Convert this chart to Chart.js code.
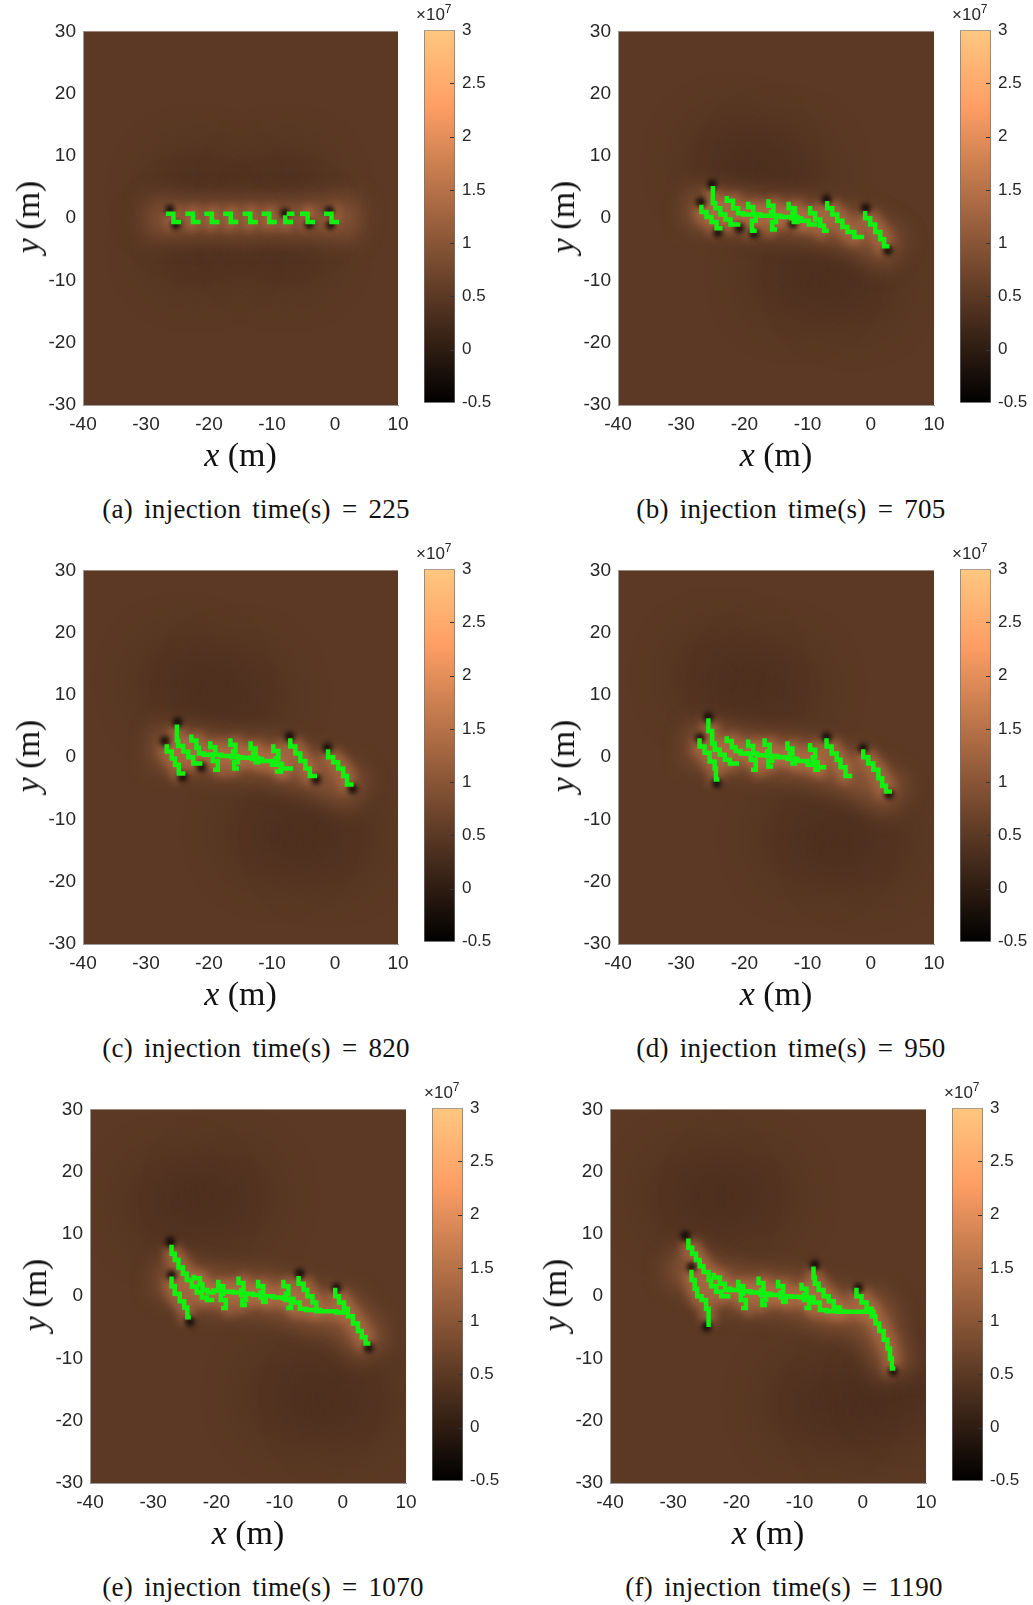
<!DOCTYPE html>
<html>
<head>
<meta charset="utf-8">
<script src="https://cdn.jsdelivr.net/npm/chart.js@4.4.1/dist/chart.umd.min.js"></script>
<style>
  body { margin: 0; background: #fff; }
  #page { position: relative; width: 1033px; height: 1605px; overflow: hidden; background: #fff; }
  canvas { position: absolute; }
  .cap { position: absolute; font-family: 'Liberation Serif', serif; font-size: 27px; letter-spacing: 0.3px; word-spacing: 4px; color: #111; white-space: nowrap; transform: translate(-50%, -50%); }
  .axt { position: absolute; font-family: 'Liberation Serif', serif; font-size: 34px; color: #111; white-space: nowrap; transform: translate(-50%, -50%); }
  .axt.y { transform: translate(-50%, -50%) rotate(-90deg); }
  .mul { position: absolute; font-family: 'Liberation Sans', Arial, sans-serif; font-size: 17px; line-height: 17px; color: #262626; white-space: nowrap; }
  .mul span { font-size: 12px; position: relative; top: -7px; }
</style>
</head>
<body>
<div id="page"></div>
<script>
// colour bar range, values x 10^7
const cbMin = -0.5, cbMax = 3;
const cbTicks = [-0.5, 0, 0.5, 1, 1.5, 2, 2.5, 3];
const xRange = [-40, 10];
const yRange = [-30, 30];
const tickStep = 10;

// field levels (x 10^7) used for the shading
const baseValue = 0.5;
const glowValue = 1.45;
const tipValue = -0.45;
const lobeValue = 0.1;

const captions = [
  '(a) injection time(s) = 225',
  '(b) injection time(s) = 705',
  '(c) injection time(s) = 820',
  '(d) injection time(s) = 950',
  '(e) injection time(s) = 1070',
  '(f) injection time(s) = 1190'
];

// fracture paths [x, y] in m, drawn as stepped lines
const aCracks = [
  [[-26.5,0.7],[-25.65,0.7],[-25.65,-0.6],[-24.8,-0.6]],
  [[-23.4,0.7],[-22.55,0.7],[-22.55,-0.6],[-21.7,-0.6]],
  [[-20.4,0.7],[-19.55,0.7],[-19.55,-0.6],[-18.7,-0.6]],
  [[-17.4,0.7],[-16.55,0.7],[-16.55,-0.6],[-15.7,-0.6]],
  [[-14.3,0.7],[-13.45,0.7],[-13.45,-0.6],[-12.6,-0.6]],
  [[-11.3,0.7],[-10.45,0.7],[-10.45,-0.6],[-9.6,-0.6]],
  [[-7.9,0.1],[-7.9,-0.6],[-7.0,-0.6]],
  [[-7.3,0.7],[-6.8,0.7]],
  [[-5.2,0.7],[-4.35,0.7],[-4.35,-0.6],[-3.5,-0.6]],
  [[-1.4,0.7],[-0.55,0.7],[-0.55,-0.6],[0.3,-0.6]]
];
const aTips = [[-26.2,1.4],[-25.3,-1.1],[-7.9,0.8],[-4.1,-1.0],[-0.7,-1.1],[-0.9,1.2]];
const aLobes = [[-22,4],[-8,4],[-22,-4],[-8,-4]];
const aBand = [[-30,0],[4,0]];

const bCracks = [
  [[-26.8,1.8],[-26.0,1.0],[-25.2,0.2],[-24.4,-0.6],[-23.8,-1.6]],
  [[-25.0,4.8],[-24.6,2.4],[-23.8,1.6],[-23.0,0.6],[-22.2,-0.2],[-21.0,-1.0]],
  [[-22.8,3.2],[-21.8,2.8],[-21.0,1.6],[-20.2,0.8]],
  [[-20.2,0.8],[-19.0,0.6],[-17.4,0.6],[-15.8,0.4],[-14.2,0.4],[-12.6,0.2],[-11.0,0.0],[-9.8,-0.4],[-8.8,-1.0]],
  [[-19.4,2.3],[-18.6,1.8],[-18.2,0.6],[-18.8,-0.4],[-18.4,-2.0]],
  [[-16.2,2.7],[-15.4,2.0],[-15.8,1.0],[-15.0,0.4],[-15.6,-0.6],[-15.2,-1.8]],
  [[-13.0,2.3],[-12.0,1.6],[-12.4,0.8],[-11.6,0.2],[-12.2,-0.6]],
  [[-9.6,1.6],[-8.8,0.8],[-8.0,-0.2],[-7.4,-1.2],[-7.0,-2.0]],
  [[-6.9,2.4],[-6.1,1.6],[-5.3,0.6],[-4.5,-0.4],[-3.7,-1.4],[-2.6,-2.2],[-1.4,-3.0]],
  [[-0.9,0.8],[-0.1,0.0],[0.7,-1.0],[1.5,-2.2],[2.1,-3.4],[2.6,-4.5]]
];
const bTips = [[-26.9,2.6],[-25.1,5.4],[-24.2,-2.3],[-20.8,-1.6],[-18.5,-2.5],[-12.3,-0.9],[-7.0,3.0],[-0.8,1.6],[2.7,-5.2]];
const bLobes = [[-22,9],[-14,7],[-12,-9],[-3,-10]];
const bBand = [[-29,1.8],[-20,0.8],[-10,-0.2],[-2,-2],[4,-5.5]];

const cCracks = [
  [[-26.7,1.7],[-25.9,0.9],[-25.4,-0.2],[-24.8,-1.2],[-24.1,-2.6]],
  [[-25.1,4.9],[-24.9,2.7],[-24.1,1.8],[-23.3,0.9],[-22.5,0.0],[-21.4,-1.0]],
  [[-22.8,3.3],[-22.0,2.7],[-21.6,1.5],[-20.8,0.6],[-19.6,0.4]],
  [[-19.6,0.4],[-18.0,0.4],[-16.4,0.2],[-14.8,0.0],[-13.2,-0.1],[-11.6,-0.3],[-10.0,-0.6],[-8.4,-1.2],[-7.0,-1.8]],
  [[-19.8,2.2],[-19.0,1.6],[-19.4,0.4],[-18.6,-0.6],[-19.0,-2.0]],
  [[-16.6,2.7],[-15.8,2.0],[-16.2,1.0],[-15.4,0.2],[-16.0,-0.8],[-15.6,-1.8]],
  [[-13.4,2.2],[-12.6,1.4],[-13.0,0.6],[-12.2,-0.1],[-12.6,-0.8]],
  [[-9.8,1.7],[-9.0,1.0],[-9.4,-0.2],[-8.6,-1.0],[-9.2,-2.3]],
  [[-7.1,2.7],[-6.3,1.7],[-5.5,0.6],[-4.7,-0.6],[-4.0,-1.8],[-3.2,-3.0]],
  [[-1.1,0.9],[-0.3,0.0],[0.5,-0.8],[1.3,-1.8],[1.9,-3.0],[2.6,-4.4]]
];
const cTips = [[-27.0,2.6],[-25.0,5.6],[-24.2,-3.2],[-21.2,-1.6],[-7.2,3.3],[-3.0,-3.6],[-1.2,1.5],[2.8,-5.1]];
const cLobes = [[-24,12],[-15,10],[-10,-12],[-1,-13]];
const cBand = [[-29,2],[-20,0.6],[-10,-0.4],[-3,-2.5],[4,-5.5]];

const dCracks = [
  [[-27.1,2.7],[-26.3,1.7],[-25.5,0.7],[-24.7,-0.7],[-24.5,-1.8],[-24.3,-3.6]],
  [[-25.7,5.9],[-25.1,4.2],[-24.7,2.2],[-23.9,1.2],[-23.1,0.4],[-22.3,-0.4],[-21.2,-1.0]],
  [[-22.8,3.0],[-22.0,2.6],[-21.4,1.6],[-20.6,1.0],[-19.6,0.6]],
  [[-19.6,0.6],[-18.0,0.6],[-16.4,0.3],[-14.8,0.2],[-13.2,0.0],[-11.6,-0.3],[-10.0,-0.6],[-8.6,-1.2],[-7.4,-1.6]],
  [[-19.4,2.5],[-18.6,1.8],[-19.0,0.6],[-18.2,-0.4],[-18.6,-2.0]],
  [[-16.8,2.7],[-16.0,2.0],[-16.4,0.9],[-15.6,0.2],[-16.2,-0.6],[-15.8,-1.5]],
  [[-13.2,2.2],[-12.4,1.4],[-12.8,0.6],[-12.0,-0.2],[-12.4,-1.0]],
  [[-9.6,1.9],[-8.8,1.2],[-9.2,0.0],[-8.4,-0.8],[-8.8,-2.0]],
  [[-7.0,2.7],[-6.2,1.7],[-5.4,0.6],[-4.8,-0.4],[-4.0,-1.6],[-3.3,-3.0]],
  [[-1.2,0.9],[-0.4,0.0],[0.4,-1.0],[1.2,-2.0],[1.8,-3.4],[2.4,-4.6],[3.0,-5.5]]
];
const dTips = [[-25.7,6.4],[-27.0,3.1],[-24.4,-4.2],[-7.0,3.2],[-1.2,1.4],[2.9,-6.0]];
const dLobes = [[-24,13],[-15,11],[-10,-13],[-1,-14]];
const dBand = [[-29,2.4],[-20,0.8],[-10,-0.4],[-3,-2.5],[4.5,-6.5]];

const eCracks = [
  [[-27.1,7.9],[-26.6,6.8],[-26.0,5.8],[-25.3,4.6],[-24.7,3.6],[-23.9,2.6],[-23.1,1.5],[-22.3,0.6],[-21.5,-0.2],[-20.7,-0.6]],
  [[-27.1,2.8],[-26.6,1.6],[-25.8,0.4],[-25.1,-0.8],[-24.6,-1.8],[-24.4,-3.4]],
  [[-23.6,3.1],[-22.6,2.9],[-22.2,1.9],[-21.4,1.0],[-20.5,0.6]],
  [[-20.5,0.9],[-19.0,0.9],[-17.4,0.7],[-15.8,0.6],[-14.2,0.4],[-12.6,0.2],[-11.0,0.0],[-9.4,-0.2],[-7.8,-0.4],[-6.8,-1.0],[-5.8,-2.0],[-4.2,-2.2],[-2.6,-2.4],[-1.0,-2.4],[0.6,-2.6]],
  [[-19.7,2.3],[-18.9,1.6],[-19.3,0.4],[-18.5,-0.6],[-18.9,-1.9]],
  [[-16.5,2.8],[-15.7,2.1],[-16.1,1.0],[-15.3,0.2],[-15.9,-0.6],[-15.5,-1.4]],
  [[-13.4,2.3],[-12.6,1.6],[-13.0,0.6],[-12.2,-0.2],[-12.6,-0.9]],
  [[-9.4,2.3],[-8.6,1.6],[-9.0,0.4],[-8.2,-0.6],[-8.6,-1.9]],
  [[-7.0,2.9],[-6.2,2.0],[-5.6,1.0],[-4.8,0.0],[-4.2,-1.0],[-3.6,-2.2]],
  [[-1.2,1.0],[-0.6,0.0],[0.2,-1.0],[0.8,-2.0],[1.6,-3.2],[2.4,-4.4],[3.0,-5.6],[3.6,-6.6],[4.0,-7.6]]
];
const eTips = [[-27.3,8.7],[-27.1,3.4],[-24.2,-4.1],[-6.8,3.6],[-1.0,1.3],[4.1,-8.3]];
const eLobes = [[-27,15],[-18,16],[-8,-16],[1,-17]];
const eBand = [[-29,4],[-22,1],[-10,0],[-5,-2.2],[0,-2.6],[5,-8.5]];

const fCracks = [
  [[-27.6,8.9],[-27.0,7.8],[-26.4,6.8],[-25.8,5.8],[-25.2,4.8],[-24.4,3.9],[-24.0,2.6],[-23.2,1.6],[-22.4,0.7],[-21.3,0.0]],
  [[-27.1,3.9],[-26.6,2.6],[-26.2,1.2],[-25.5,0.0],[-24.8,-0.6],[-24.4,-2.0],[-24.4,-4.6]],
  [[-23.6,3.4],[-22.6,3.0],[-21.8,2.0],[-21.0,1.0]],
  [[-21.0,1.2],[-19.4,1.0],[-17.8,0.8],[-16.2,0.6],[-14.6,0.4],[-13.0,0.2],[-11.4,0.0],[-9.8,-0.1],[-7.8,-0.2],[-6.8,-1.0],[-5.7,-2.2],[-4.0,-2.4],[-2.4,-2.5],[-0.8,-2.5],[1.7,-2.5]],
  [[-19.7,2.3],[-18.9,1.6],[-19.3,0.4],[-18.5,-0.6],[-18.9,-1.9]],
  [[-16.5,2.8],[-15.7,2.1],[-16.1,1.0],[-15.3,0.2],[-15.9,-0.6],[-15.5,-1.4]],
  [[-13.4,2.3],[-12.6,1.6],[-13.0,0.6],[-12.2,-0.2],[-12.6,-0.9]],
  [[-9.7,1.8],[-8.9,1.2],[-9.3,0.2],[-8.5,-0.6],[-8.9,-1.9]],
  [[-7.8,4.4],[-7.6,3.0],[-7.0,2.0],[-6.2,1.0],[-5.4,0.0],[-4.6,-0.8],[-3.6,-1.8],[-2.6,-2.5]],
  [[-1.0,1.0],[-0.2,0.0],[0.6,-1.0],[1.4,-2.0],[2.0,-3.2],[2.6,-4.4],[3.3,-5.6],[3.9,-7.0],[4.3,-8.4],[4.6,-10.0],[4.8,-11.6]]
];
const fTips = [[-28.1,9.7],[-27.1,4.7],[-24.7,-4.9],[-7.6,5.0],[-0.7,1.3],[4.8,-12.1]];
const fLobes = [[-27,16],[-18,16],[-8,-17],[1,-18],[8,-13]];
const fBand = [[-30,6],[-23,1.5],[-10,0],[-5,-2.3],[1.5,-2.6],[5.5,-12.5]];

// page layout, px
const layout = [
  { L: 83,  R: 398, T: 28,   B: 405,  cbL: 424, cbR: 455, capX: 256, capY: 509 },
  { L: 618, R: 934, T: 28,   B: 405,  cbL: 960, cbR: 991, capX: 791, capY: 509 },
  { L: 83,  R: 398, T: 567,  B: 944,  cbL: 424, cbR: 455, capX: 256, capY: 1048 },
  { L: 618, R: 934, T: 567,  B: 944,  cbL: 960, cbR: 991, capX: 791, capY: 1048 },
  { L: 90,  R: 406, T: 1106, B: 1483, cbL: 432, cbR: 463, capX: 263, capY: 1587 },
  { L: 610, R: 926, T: 1106, B: 1483, cbL: 952, cbR: 983, capX: 784, capY: 1587 }
];

const panels = [
  { cracks: aCracks, tips: aTips, lobes: aLobes, band: aBand },
  { cracks: bCracks, tips: bTips, lobes: bLobes, band: bBand },
  { cracks: cCracks, tips: cTips, lobes: cLobes, band: cBand },
  { cracks: dCracks, tips: dTips, lobes: dLobes, band: dBand },
  { cracks: eCracks, tips: eTips, lobes: eLobes, band: eBand },
  { cracks: fCracks, tips: fTips, lobes: fLobes, band: fBand }
];

const GREEN = '#12f012';
const TICK = { family: "'Liberation Sans', Arial, sans-serif", size: 19 };
const TEXT = '#262626';

// MATLAB copper colormap over the colour bar range
function copper(val, a = 1) {
  const v = Math.max(0, Math.min(1, (val - cbMin) / (cbMax - cbMin)));
  const r = Math.round(Math.min(1, 1.25 * v) * 255);
  const g = Math.round(0.7812 * v * 255);
  const b = Math.round(0.4975 * v * 255);
  return `rgba(${r},${g},${b},${a})`;
}

const pts = arr => arr.map(([x, y]) => ({ x, y }));

const blurPlugin = {
  id: 'blur',
  beforeDatasetDraw(chart, args) {
    const ds = chart.data.datasets[args.index];
    chart.ctx.save();
    if (ds.blur) chart.ctx.filter = 'blur(' + ds.blur + 'px)';
  },
  afterDatasetDraw(chart) { chart.ctx.restore(); }
};

const fieldPlugin = {
  id: 'field',
  beforeDatasetsDraw(chart) {
    const { ctx, chartArea: a } = chart;
    ctx.save();
    ctx.fillStyle = copper(baseValue);
    ctx.fillRect(a.left, a.top, a.right - a.left, a.bottom - a.top);
    ctx.restore();
  }
};

const cbTickPlugin = {
  id: 'cbticks',
  afterDatasetsDraw(chart) {
    const { ctx, chartArea: a, scales: { y } } = chart;
    ctx.save();
    ctx.strokeStyle = '#333';
    ctx.lineWidth = 1;
    cbTicks.slice(1, -1).forEach(v => {
      const py = Math.round(y.getPixelForValue(v)) + 0.5;
      ctx.beginPath();
      ctx.moveTo(a.right - 1, py);
      ctx.lineTo(a.right - 5, py);
      ctx.stroke();
    });
    ctx.restore();
  }
};

function addDiv(cls, html, left, top) {
  const d = document.createElement('div');
  d.className = cls;
  d.innerHTML = html;
  d.style.left = left + 'px';
  d.style.top = top + 'px';
  document.getElementById('page').appendChild(d);
  return d;
}

function addCanvas(left, top, w, h) {
  const c = document.createElement('canvas');
  c.width = w; c.height = h;
  c.style.left = left + 'px'; c.style.top = top + 'px';
  c.style.width = w + 'px'; c.style.height = h + 'px';
  document.getElementById('page').appendChild(c);
  return c;
}

function makePanel(p, lay, caption) {
  const padL = 75, padT = 15, padR = 20, padB = 50;
  const w = lay.R - lay.L + padL + padR, h = lay.B - lay.T + padT + padB;
  const cv = addCanvas(lay.L - padL, lay.T - padT, w, h);

  // listed bottom layer first; reversed below because Chart.js paints dataset 0 last
  const layers = [];
  layers.push({ data: pts(p.lobes), showLine: false, pointRadius: 46, pointBorderWidth: 0,
    pointBackgroundColor: copper(lobeValue, 0.3), blur: 22, clip: 0 });
  layers.push({ data: pts(p.band), borderColor: copper(glowValue, 0.5), borderWidth: 40,
    pointRadius: 0, blur: 11, clip: 0 });
  p.cracks.forEach(c => layers.push({ data: pts(c), stepped: 'after', borderColor: copper(glowValue, 0.65),
    borderWidth: 15, pointRadius: 0, blur: 4, clip: 0 }));
  layers.push({ data: pts(p.tips), showLine: false, pointRadius: 5, pointBorderWidth: 0,
    pointBackgroundColor: copper(tipValue, 0.85), blur: 2.5, clip: 0 });
  p.cracks.forEach(c => layers.push({ data: pts(c), stepped: 'after', borderColor: GREEN,
    borderWidth: 4.5, borderCapStyle: 'square', borderJoinStyle: 'miter', pointRadius: 0, clip: 0 }));
  const datasets = layers.reverse();

  new Chart(cv, {
    type: 'line',
    data: { datasets },
    options: {
      responsive: false,
      animation: false,
      events: [],
      layout: { autoPadding: false, padding: { top: padT, right: padR, left: 0, bottom: 0 } },
      plugins: { legend: { display: false }, tooltip: { enabled: false } },
      scales: {
        x: {
          type: 'linear', min: xRange[0], max: xRange[1],
          ticks: { stepSize: tickStep, color: TEXT, font: TICK, padding: 8, maxRotation: 0, callback: v => String(v) },
          grid: { display: false, drawTicks: false },
          border: { color: '#9a9a9a', z: 1 },
          afterFit: s => { s.height = padB; }
        },
        y: {
          type: 'linear', min: yRange[0], max: yRange[1],
          ticks: { stepSize: tickStep, color: TEXT, font: TICK, padding: 7, callback: v => String(v) },
          grid: { display: false, drawTicks: false },
          border: { color: '#9a9a9a', z: 1 },
          afterFit: s => { s.width = padL; }
        }
      }
    },
    plugins: [fieldPlugin, blurPlugin]
  });

  // colour bar
  const cw = lay.cbR - lay.cbL + 1 + 60, ch = lay.B - lay.T + 30;
  const cc = addCanvas(lay.cbL - 1, lay.T - 15, cw, ch);
  new Chart(cc, {
    type: 'bar',
    data: {
      labels: [''],
      datasets: [{
        data: [[cbMin, cbMax]],
        backgroundColor: ctx => {
          const chart = ctx.chart;
          if (!chart.chartArea) return copper(cbMax);
          const y = chart.scales.y;
          const g = chart.ctx.createLinearGradient(0, y.getPixelForValue(cbMin), 0, y.getPixelForValue(cbMax));
          [0, 0.8, 1].forEach(t => g.addColorStop(t, copper(cbMin + t * (cbMax - cbMin))));
          return g;
        },
        borderColor: '#707070',
        borderWidth: 1,
        borderSkipped: false,
        barPercentage: 1,
        categoryPercentage: 1
      }]
    },
    options: {
      responsive: false,
      animation: false,
      events: [],
      layout: { autoPadding: false, padding: { top: 15, bottom: 15, left: 1, right: 0 } },
      plugins: { legend: { display: false }, tooltip: { enabled: false } },
      scales: {
        x: { display: false },
        y: {
          position: 'right', min: cbMin, max: cbMax,
          ticks: { stepSize: 0.5, color: TEXT, font: { family: TICK.family, size: 17 }, padding: 7, callback: v => String(v) },
          grid: { display: false, drawTicks: false },
          border: { display: false },
          afterFit: s => { s.width = 60; }
        }
      }
    },
    plugins: [cbTickPlugin]
  });

  addDiv('mul', '&times;10<span>7</span>', lay.cbL - 8, lay.T - 22);
  addDiv('axt', '<i>x</i> (m)', (lay.L + lay.R) / 2, lay.B + 50);
  addDiv('axt y', '<i>y</i> (m)', lay.L - 55, (lay.T + lay.B) / 2);
  addDiv('cap', caption, lay.capX, lay.capY);
}

panels.forEach((p, i) => makePanel(p, layout[i], captions[i]));
</script>
</body>
</html>
